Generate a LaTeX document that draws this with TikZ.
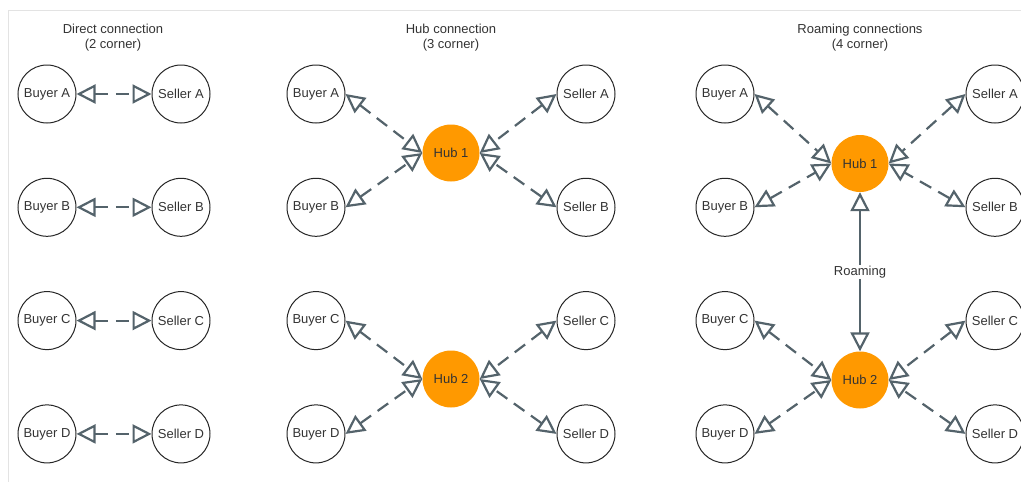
\documentclass[tikz,border=0pt]{standalone}
\usepackage{fontspec}
\setmainfont{Liberation Sans}
\usetikzlibrary{arrows.meta}
\definecolor{linkgray}{HTML}{54636B}
\definecolor{huborange}{HTML}{FF9900}
\definecolor{textgray}{HTML}{333333}
\definecolor{framegray}{HTML}{E3E3E3}
\tikzstyle{party} = [circle, draw=black!85, line width=1pt, minimum size=58pt, inner sep=0pt, text=textgray, font=\fontsize{13}{15}\selectfont]
\tikzstyle{hub} = [circle, fill=huborange, minimum size=57pt, inner sep=0pt, text=textgray, font=\fontsize{13}{15}\selectfont]
\tikzstyle{title} = [align=center, text=textgray, font=\fontsize{13}{15}\selectfont]
\tikzstyle{link} = [line width=2.2pt, draw=linkgray, dash pattern=on 13pt off 8pt, {Triangle[open, length=19pt, width=19pt]}-{Triangle[open, length=19pt, width=19pt]}]
\tikzstyle{roam} = [line width=2.2pt, draw=linkgray, {Triangle[open, length=19pt, width=19pt]}-{Triangle[open, length=19pt, width=19pt]}]

\begin{document}
\begin{tikzpicture}[x=1pt, y=1pt, node distance=113.3pt]
            \useasboundingbox (0,0) rectangle (1021,-482);
            \draw [framegray, line width=1pt] (8,-482) -- (8,-10) -- (1021,-10);

            \node (title1) [title] at (113,-37.5) {Direct connection\\(2 corner)};
            \node (title2) [title] at (451,-37.5) {Hub connection\\(3 corner)};
            \node (title3) [title] at (860,-37.5) {Roaming connections\\(4 corner)};

            \node (buyerA1)  [party] at (47,-94) {Buyer A};
            \node (buyerB1)  [party, below of=buyerA1] {Buyer B};
            \node (buyerC1)  [party, below of=buyerB1] {Buyer C};
            \node (buyerD1)  [party, below of=buyerC1] {Buyer D};
            \node (sellerA1) [party, node distance=134pt, right of=buyerA1] {Seller A};
            \node (sellerB1) [party, node distance=134pt, right of=buyerB1] {Seller B};
            \node (sellerC1) [party, node distance=134pt, right of=buyerC1] {Seller C};
            \node (sellerD1) [party, node distance=134pt, right of=buyerD1] {Seller D};

            \node (buyerA2)  [party] at (316,-94) {Buyer A};
            \node (buyerB2)  [party, below of=buyerA2] {Buyer B};
            \node (buyerC2)  [party, below of=buyerB2] {Buyer C};
            \node (buyerD2)  [party, below of=buyerC2] {Buyer D};
            \node (sellerA2) [party, node distance=270pt, right of=buyerA2] {Seller A};
            \node (sellerB2) [party, node distance=270pt, right of=buyerB2] {Seller B};
            \node (sellerC2) [party, node distance=270pt, right of=buyerC2] {Seller C};
            \node (sellerD2) [party, node distance=270pt, right of=buyerD2] {Seller D};
            \node (hub12)    [hub] at (451,-153) {Hub 1};
            \node (hub22)    [hub] at (451,-379) {Hub 2};

            \node (buyerA3)  [party] at (725,-94) {Buyer A};
            \node (buyerB3)  [party, below of=buyerA3] {Buyer B};
            \node (buyerC3)  [party, below of=buyerB3] {Buyer C};
            \node (buyerD3)  [party, below of=buyerC3] {Buyer D};
            \node (sellerA3) [party, node distance=270pt, right of=buyerA3] {Seller A};
            \node (sellerB3) [party, node distance=270pt, right of=buyerB3] {Seller B};
            \node (sellerC3) [party, node distance=270pt, right of=buyerC3] {Seller C};
            \node (sellerD3) [party, node distance=270pt, right of=buyerD3] {Seller D};
            \node (hub13)    [hub] at (860,-163.5) {Hub 1};
            \node (hub23)    [hub] at (860,-380) {Hub 2};

            \draw [link] (buyerA1) -- (sellerA1);
            \draw [link] (buyerB1) -- (sellerB1);
            \draw [link] (buyerC1) -- (sellerC1);
            \draw [link] (buyerD1) -- (sellerD1);

            \draw [link] (buyerA2.east) -- (hub12.west);
            \draw [link] (buyerB2.east) -- (hub12.west);
            \draw [link] (sellerA2.west) -- (hub12.east);
            \draw [link] (sellerB2.west) -- (hub12.east);
            \draw [link] (buyerC2.east) -- (hub22.west);
            \draw [link] (buyerD2.east) -- (hub22.west);
            \draw [link] (sellerC2.west) -- (hub22.east);
            \draw [link] (sellerD2.west) -- (hub22.east);

            \draw [link] (buyerA3.east) -- (hub13.west);
            \draw [link] (buyerB3.east) -- (hub13.west);
            \draw [link] (sellerA3.west) -- (hub13.east);
            \draw [link] (sellerB3.west) -- (hub13.east);
            \draw [link] (buyerC3.east) -- (hub23.west);
            \draw [link] (buyerD3.east) -- (hub23.west);
            \draw [link] (sellerC3.west) -- (hub23.east);
            \draw [link] (sellerD3.west) -- (hub23.east);

            \draw [roam] (hub13.south) -- node (roamlabel) [fill=white, text=textgray, inner sep=1pt, font=\fontsize{13}{15}\selectfont] {Roaming} (hub23.north);
        \end{tikzpicture}
\end{document}
